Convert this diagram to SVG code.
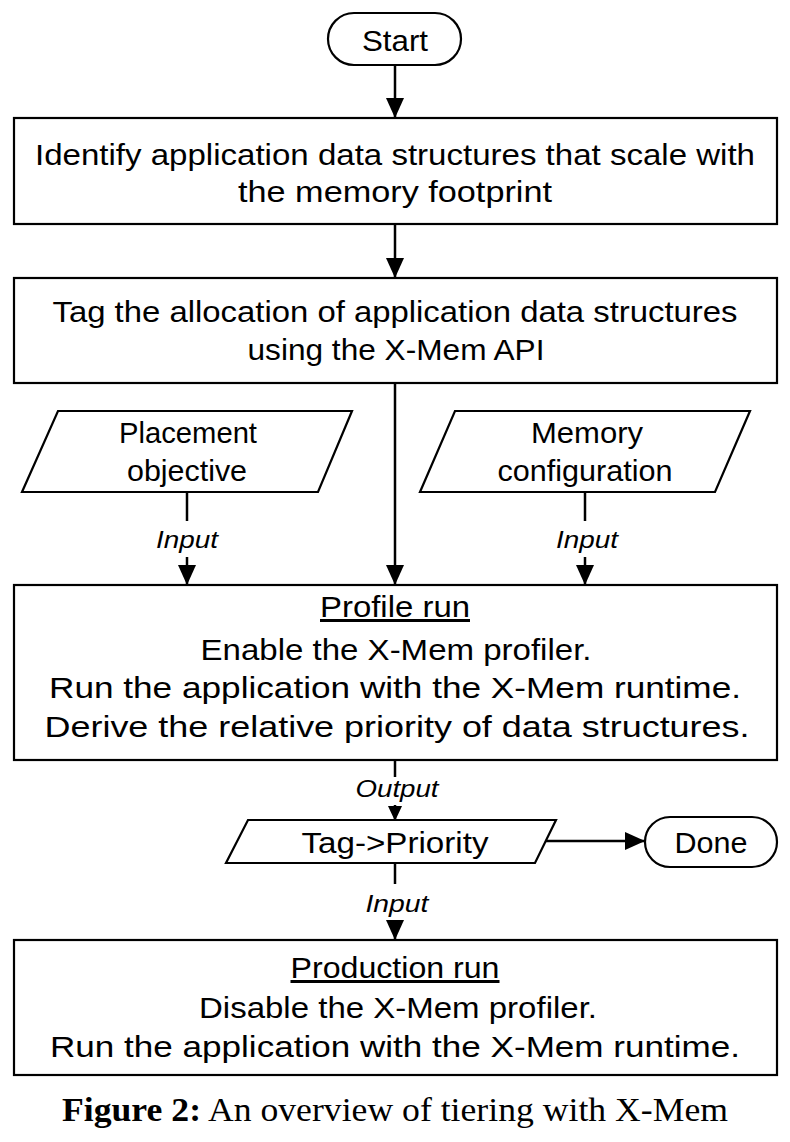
<svg xmlns="http://www.w3.org/2000/svg" width="790" height="1142" viewBox="0 0 790 1142">
<defs>
<style>
.shape{fill:#fff;stroke:#000;stroke-width:2.2}
.t{font-family:"Liberation Sans",Arial,sans-serif;font-size:30px;fill:#000;text-anchor:middle}
.lbl{font-family:"Liberation Sans",Arial,sans-serif;font-size:24px;font-style:italic;fill:#000;text-anchor:middle}
.u{text-decoration:underline}
.c{stroke:#000;stroke-width:2.5;fill:none}
.cap{font-family:"Liberation Serif","Times New Roman",serif;font-size:34px;fill:#000;text-anchor:middle}
</style>
<marker id="arr" markerUnits="userSpaceOnUse" markerWidth="20" markerHeight="18" refX="20" refY="9" orient="auto">
<path d="M0,0 L20,9 L0,18 Z" fill="#000"/>
</marker>
<marker id="arrs" markerUnits="userSpaceOnUse" markerWidth="15" markerHeight="14" refX="15" refY="7" orient="auto">
<path d="M0,0 L15,7 L0,14 Z" fill="#000"/>
</marker>
</defs>
<rect width="790" height="1142" fill="#fff"/>

<g id="connectors">
<line class="c" x1="395" y1="65" x2="395" y2="118" marker-end="url(#arr)"/>
<line class="c" x1="395" y1="224" x2="395" y2="278" marker-end="url(#arr)"/>
<line class="c" x1="395" y1="383" x2="395" y2="585" marker-end="url(#arr)"/>
<line class="c" x1="187" y1="492" x2="187" y2="521"/>
<line class="c" x1="187" y1="557" x2="187" y2="585" marker-end="url(#arr)"/>
<text class="lbl" x="187" y="548" textLength="62" lengthAdjust="spacingAndGlyphs">Input</text>
<line class="c" x1="585" y1="492" x2="585" y2="521"/>
<line class="c" x1="585" y1="557" x2="585" y2="585" marker-end="url(#arr)"/>
<text class="lbl" x="587" y="548" textLength="62" lengthAdjust="spacingAndGlyphs">Input</text>
<line class="c" x1="395" y1="760" x2="395" y2="777"/>
<text class="lbl" x="397" y="797" textLength="83" lengthAdjust="spacingAndGlyphs">Output</text>
<line class="c" x1="395" y1="805" x2="395" y2="821" marker-end="url(#arrs)"/>
<line class="c" x1="546" y1="841" x2="645" y2="841" marker-end="url(#arr)"/>
<line class="c" x1="395" y1="863" x2="395" y2="884"/>
<text class="lbl" x="397" y="912" textLength="63" lengthAdjust="spacingAndGlyphs">Input</text>
<line class="c" x1="395" y1="920" x2="395" y2="940" marker-end="url(#arr)"/>
</g>

<g id="start">
<rect class="shape" x="328" y="13" width="133" height="52" rx="26" ry="26"/>
<text class="t" x="395" y="51" textLength="66" lengthAdjust="spacingAndGlyphs">Start</text>
</g>

<g id="identify">
<rect class="shape" x="14" y="118" width="763" height="106"/>
<text class="t" x="395" y="165" textLength="720" lengthAdjust="spacingAndGlyphs">Identify application data structures that scale with</text>
<text class="t" x="395" y="202" textLength="314" lengthAdjust="spacingAndGlyphs">the memory footprint</text>
</g>

<g id="tag">
<rect class="shape" x="14" y="278" width="763" height="105"/>
<text class="t" x="395" y="322" textLength="685" lengthAdjust="spacingAndGlyphs">Tag the allocation of application data structures</text>
<text class="t" x="396" y="360" textLength="297" lengthAdjust="spacingAndGlyphs">using the X-Mem API</text>
</g>

<g id="placement">
<polygon class="shape" points="58,411 352,411 318,492 22,492"/>
<text class="t" x="188" y="443" textLength="138" lengthAdjust="spacingAndGlyphs">Placement</text>
<text class="t" x="187" y="481" textLength="120" lengthAdjust="spacingAndGlyphs">objective</text>
</g>

<g id="memconf">
<polygon class="shape" points="455,411 750,411 715,492 420,492"/>
<text class="t" x="587" y="443" textLength="112" lengthAdjust="spacingAndGlyphs">Memory</text>
<text class="t" x="585" y="481" textLength="175" lengthAdjust="spacingAndGlyphs">configuration</text>
</g>

<g id="profile">
<rect class="shape" x="14" y="585" width="763" height="175"/>
<text class="t u" x="395" y="617" textLength="150" lengthAdjust="spacingAndGlyphs">Profile run</text>
<text class="t" x="396" y="660" textLength="391" lengthAdjust="spacingAndGlyphs">Enable the X-Mem profiler.</text>
<text class="t" x="395" y="698" textLength="692" lengthAdjust="spacingAndGlyphs">Run the application with the X-Mem runtime.</text>
<text class="t" x="397" y="737" textLength="705" lengthAdjust="spacingAndGlyphs">Derive the relative priority of data structures.</text>
</g>

<g id="tagpriority">
<polygon class="shape" points="248,820 556,820 535,863 226,863"/>
<text class="t" x="395" y="853" textLength="187" lengthAdjust="spacingAndGlyphs">Tag-&gt;Priority</text>
</g>

<g id="done">
<rect class="shape" x="645" y="817" width="132" height="50" rx="25" ry="25"/>
<text class="t" x="711" y="853" textLength="73" lengthAdjust="spacingAndGlyphs">Done</text>
</g>

<g id="production">
<rect class="shape" x="14" y="940" width="763" height="135"/>
<text class="t u" x="395" y="978" textLength="209" lengthAdjust="spacingAndGlyphs">Production run</text>
<text class="t" x="398" y="1018" textLength="398" lengthAdjust="spacingAndGlyphs">Disable the X-Mem profiler.</text>
<text class="t" x="395" y="1057" textLength="690" lengthAdjust="spacingAndGlyphs">Run the application with the X-Mem runtime.</text>
</g>

<g id="caption">
<text class="cap" x="395" y="1121" textLength="666" lengthAdjust="spacingAndGlyphs"><tspan font-weight="bold">Figure 2:</tspan> An overview of tiering with X-Mem</text>
</g>
</svg>
